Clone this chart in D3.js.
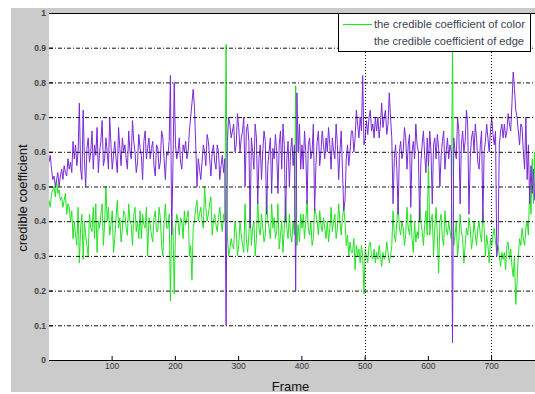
<!DOCTYPE html>
<html><head><meta charset="utf-8">
<script src="https://cdn.jsdelivr.net/npm/d3@7"></script>
<style>body{margin:0;background:#fff}svg{display:block}</style>
</head><body>
<script>
// frames sampled every 2nd frame starting at frame 1
const frameStart = 1, frameStep = 2;
const edgeValues = [
0.57,0.59,0.55,0.52,0.53,0.50,0.52,0.54,0.50,0.53,0.55,0.52,0.56,0.54,0.53,0.58,0.55,0.57,0.54,0.63,
0.58,0.62,0.56,0.60,0.74,0.55,0.52,0.72,0.58,0.50,0.61,0.64,0.57,0.60,0.66,0.55,0.62,0.59,0.67,0.54,
0.60,0.63,0.69,0.56,0.58,0.64,0.60,0.55,0.70,0.62,0.55,0.59,0.63,0.58,0.54,0.67,0.61,0.56,0.64,0.60,
0.62,0.58,0.55,0.66,0.60,0.58,0.69,0.63,0.60,0.54,0.57,0.65,0.61,0.59,0.52,0.63,0.66,0.58,0.61,0.64,
0.58,0.61,0.63,0.56,0.53,0.62,0.61,0.55,0.57,0.66,0.64,0.58,0.52,0.60,0.59,0.63,0.82,0.36,0.56,0.80,
0.62,0.58,0.60,0.64,0.57,0.55,0.62,0.60,0.63,0.58,0.60,0.66,0.70,0.74,0.78,0.73,0.62,0.50,0.58,0.55,
0.52,0.57,0.62,0.60,0.56,0.65,0.63,0.58,0.53,0.60,0.62,0.57,0.55,0.62,0.60,0.52,0.56,0.59,0.54,0.58,
0.10,0.63,0.70,0.68,0.64,0.66,0.68,0.60,0.62,0.71,0.67,0.60,0.64,0.66,0.70,0.50,0.66,0.68,0.63,0.38,
0.64,0.60,0.55,0.68,0.64,0.45,0.58,0.62,0.52,0.60,0.66,0.63,0.42,0.56,0.60,0.64,0.48,0.61,0.58,0.65,
0.60,0.48,0.62,0.66,0.55,0.68,0.62,0.40,0.58,0.63,0.50,0.60,0.64,0.56,0.62,0.20,0.77,0.60,0.68,0.55,
0.62,0.55,0.66,0.60,0.45,0.62,0.64,0.58,0.60,0.68,0.43,0.56,0.63,0.66,0.56,0.60,0.66,0.62,0.58,0.64,
0.60,0.67,0.62,0.55,0.64,0.60,0.58,0.68,0.62,0.52,0.60,0.66,0.55,0.43,0.46,0.58,0.62,0.56,0.60,0.66,
0.66,0.60,0.64,0.72,0.68,0.64,0.70,0.66,0.82,0.62,0.64,0.69,0.65,0.70,0.72,0.66,0.68,0.64,0.70,0.66,
0.70,0.64,0.68,0.74,0.67,0.70,0.72,0.65,0.68,0.77,0.70,0.64,0.45,0.58,0.62,0.55,0.42,0.60,0.63,0.58,
0.60,0.67,0.64,0.55,0.62,0.65,0.44,0.60,0.63,0.58,0.68,0.62,0.60,0.40,0.57,0.62,0.66,0.59,0.54,0.64,
0.56,0.66,0.60,0.45,0.62,0.64,0.58,0.65,0.61,0.50,0.59,0.63,0.66,0.55,0.60,0.64,0.58,0.62,0.60,0.05,
0.64,0.60,0.58,0.70,0.66,0.45,0.62,0.66,0.60,0.63,0.72,0.68,0.42,0.58,0.64,0.66,0.60,0.68,0.64,0.57,
0.55,0.62,0.66,0.40,0.60,0.63,0.68,0.64,0.60,0.66,0.70,0.65,0.62,0.66,0.30,0.34,0.62,0.66,0.68,0.64,
0.68,0.64,0.66,0.71,0.68,0.66,0.74,0.83,0.78,0.72,0.70,0.66,0.62,0.68,0.67,0.60,0.55,0.70,0.52,0.62,
0.45,0.56,0.48,0.55,0.46];
const colorValues = [
0.46,0.44,0.48,0.49,0.50,0.47,0.52,0.48,0.49,0.46,0.47,0.44,0.46,0.48,0.42,0.45,0.44,0.40,0.43,0.35,
0.40,0.36,0.33,0.44,0.28,0.38,0.42,0.29,0.40,0.36,0.33,0.30,0.42,0.38,0.37,0.44,0.35,0.45,0.31,0.40,
0.38,0.42,0.45,0.33,0.40,0.50,0.40,0.44,0.36,0.39,0.43,0.31,0.35,0.41,0.46,0.38,0.41,0.34,0.38,0.43,
0.42,0.38,0.36,0.45,0.40,0.39,0.33,0.42,0.44,0.37,0.40,0.35,0.43,0.35,0.42,0.39,0.38,0.44,0.30,0.41,
0.39,0.36,0.34,0.41,0.43,0.37,0.37,0.44,0.41,0.33,0.30,0.40,0.45,0.38,0.38,0.42,0.17,0.40,0.38,0.19,
0.38,0.42,0.40,0.36,0.41,0.40,0.35,0.43,0.39,0.41,0.43,0.30,0.33,0.23,0.38,0.40,0.44,0.46,0.40,0.42,
0.44,0.40,0.38,0.50,0.44,0.40,0.42,0.45,0.47,0.36,0.40,0.42,0.39,0.37,0.41,0.44,0.40,0.37,0.42,0.40,
0.91,0.36,0.30,0.32,0.35,0.33,0.32,0.40,0.37,0.30,0.33,0.40,0.36,0.33,0.31,0.45,0.35,0.31,0.36,0.44,
0.33,0.38,0.40,0.30,0.35,0.46,0.38,0.36,0.42,0.38,0.34,0.36,0.48,0.40,0.38,0.35,0.45,0.38,0.41,0.35,
0.37,0.45,0.32,0.36,0.40,0.31,0.38,0.47,0.38,0.35,0.42,0.36,0.34,0.40,0.36,0.79,0.33,0.39,0.34,0.42,
0.38,0.42,0.35,0.40,0.46,0.38,0.36,0.40,0.33,0.35,0.44,0.42,0.40,0.36,0.43,0.39,0.37,0.41,0.38,0.35,
0.40,0.34,0.38,0.44,0.37,0.40,0.42,0.35,0.38,0.45,0.40,0.36,0.41,0.44,0.40,0.33,0.36,0.30,0.34,0.31,
0.31,0.35,0.26,0.33,0.30,0.32,0.28,0.33,0.30,0.19,0.32,0.30,0.28,0.33,0.34,0.30,0.29,0.32,0.28,0.31,
0.29,0.33,0.30,0.27,0.31,0.29,0.30,0.34,0.31,0.28,0.30,0.33,0.43,0.36,0.34,0.40,0.45,0.38,0.36,0.40,
0.38,0.33,0.36,0.44,0.38,0.36,0.42,0.35,0.31,0.40,0.34,0.37,0.35,0.46,0.40,0.37,0.33,0.39,0.43,0.36,
0.58,0.36,0.40,0.42,0.30,0.38,0.44,0.36,0.25,0.40,0.42,0.35,0.33,0.43,0.38,0.36,0.40,0.37,0.35,0.92,
0.33,0.36,0.40,0.30,0.34,0.42,0.37,0.35,0.28,0.33,0.38,0.36,0.41,0.38,0.32,0.35,0.40,0.36,0.33,0.38,
0.40,0.36,0.34,0.43,0.38,0.30,0.36,0.33,0.28,0.35,0.33,0.36,0.38,0.34,0.31,0.33,0.30,0.27,0.31,0.29,
0.31,0.26,0.33,0.34,0.29,0.32,0.27,0.24,0.30,0.16,0.22,0.30,0.35,0.33,0.38,0.35,0.33,0.38,0.40,0.36,
0.50,0.42,0.58,0.45,0.60];
const yTicks = [0,0.1,0.2,0.3,0.4,0.5,0.6,0.7,0.8,0.9,1];
const yTickLabels = ["0","0.1","0.2","0.3","0.4","0.5","0.6","0.7","0.8","0.9","1"];
const xTicks = [100,200,300,400,500,600,700];
const xTickLabels = ["100","200","300","400","500","600","700"];
const gridX = [500,700];
const gridY = [0.1,0.2,0.3,0.4,0.5,0.6,0.7,0.8,0.9];
const legendLabels = ["the credible coefficient of color","the credible coefficient of edge"];
const xDomain = [1,771];

const W = 535, H = 394;
const L = 49, R = 536, T = 13, B = 360;
const colorGreen = "#22e322", colorPurple = "#7a2ad8";

const svg = d3.select("body").append("svg").attr("width", W).attr("height", H);
svg.append("rect").attr("x", 11).attr("y", 8).attr("width", W - 11).attr("height", 384).attr("fill", "#cbcbcb");
svg.append("rect").attr("x", L).attr("y", T).attr("width", R - L).attr("height", B - T).attr("fill", "#fff");

const x = d3.scaleLinear().domain(xDomain).range([L, R]);
const y = d3.scaleLinear().domain([0, 1]).range([B, T]);

svg.append("clipPath").attr("id", "clip").append("rect")
  .attr("x", L).attr("y", T).attr("width", R - L).attr("height", B - T);

const frameOf = i => frameStart + i * frameStep;
const line = d3.line().x((d, i) => x(frameOf(i))).y(d => y(d));

const plot = svg.append("g").attr("clip-path", "url(#clip)");
plot.append("path").datum(colorValues).attr("d", line)
  .attr("fill", "none").attr("stroke", colorGreen).attr("stroke-width", 1);
plot.append("path").datum(edgeValues).attr("d", line)
  .attr("fill", "none").attr("stroke", colorPurple).attr("stroke-width", 1);

// grid
const grid = svg.append("g");
grid.selectAll("line.gy").data(gridY).join("line")
  .attr("x1", L).attr("x2", R).attr("y1", d => y(d) + 0.5).attr("y2", d => y(d) + 0.5)
  .attr("stroke", "#111").attr("stroke-width", 1).attr("stroke-dasharray", "4,2,1,2");
grid.selectAll("line.gx").data(gridX).join("line")
  .attr("x1", d => Math.round(x(d)) + 0.5).attr("x2", d => Math.round(x(d)) + 0.5)
  .attr("y1", T).attr("y2", B)
  .attr("stroke", "#111").attr("stroke-width", 1).attr("stroke-dasharray", "1,2");

// axes
const xAxis = d3.axisBottom(x).tickValues(xTicks).tickFormat((d, i) => xTickLabels[i])
  .tickSize(-4).tickSizeOuter(0).tickPadding(3);
const gx = svg.append("g").attr("transform", `translate(0,${B})`).call(xAxis);
gx.selectAll("text").attr("font-family", "Liberation Sans, Arial, sans-serif").attr("font-size", 8.5).attr("fill", "#333");

const yAxis = d3.axisLeft(y).tickValues(yTicks).tickFormat((d, i) => yTickLabels[i])
  .tickSize(-4).tickSizeOuter(0).tickPadding(3);
const gy = svg.append("g").attr("transform", `translate(${L},0)`).call(yAxis);
gy.select(".domain").remove();
gy.selectAll("text").attr("font-family", "Liberation Sans, Arial, sans-serif").attr("font-size", 8.5).attr("font-weight", "bold").attr("fill", "#444");

svg.append("line").attr("x1", L).attr("x2", R).attr("y1", T + 0.5).attr("y2", T + 0.5)
  .attr("stroke", "#000").attr("stroke-width", 1.2);

// labels
svg.append("text").attr("x", (L + R) / 2 - 2).attr("y", 391).attr("text-anchor", "middle")
  .attr("font-family", "Liberation Sans, Arial, sans-serif").attr("font-size", 13).attr("fill", "#111").text("Frame");
svg.append("text").attr("transform", "translate(27,198) rotate(-90)").attr("text-anchor", "middle")
  .attr("font-family", "Liberation Sans, Arial, sans-serif").attr("font-size", 13).attr("fill", "#111").text("credible coefficient");

// legend
const lg = svg.append("g");
lg.append("rect").attr("x", 338.5).attr("y", 13.5).attr("width", 192).attr("height", 38)
  .attr("fill", "#fff").attr("stroke", "#000").attr("stroke-width", 1);
lg.append("line").attr("x1", 343).attr("x2", 372).attr("y1", 24.5).attr("y2", 24.5)
  .attr("stroke", colorGreen).attr("stroke-width", 1.2);
lg.selectAll("text").data(legendLabels).join("text")
  .attr("x", 374).attr("y", (d, i) => 28 + i * 17)
  .attr("font-family", "Liberation Sans Narrow, Liberation Sans, Arial, sans-serif")
  .attr("font-size", 11).attr("fill", "#3a4252")
  .attr("textLength", (d, i) => i === 0 ? 151 : 150).attr("lengthAdjust", "spacingAndGlyphs")
  .text(d => d);
</script>
</body></html>
